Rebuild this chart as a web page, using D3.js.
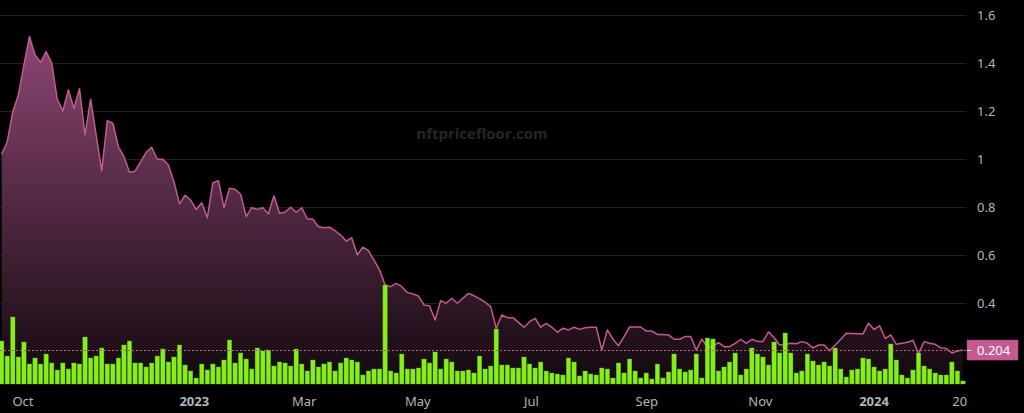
<!DOCTYPE html>
<html>
<head>
<meta charset="utf-8">
<script src="https://cdn.jsdelivr.net/npm/d3@7/dist/d3.min.js"></script>
<style>
  html, body { margin: 0; padding: 0; background: #000; }
  svg { display: block; }
</style>
</head>
<body>
<svg id="chart" width="1024" height="413"></svg>
<script>
// ---- DATA ----
const floorPrice = [
  1.021, 1.072, 1.197, 1.267, 1.392, 1.51, 1.433, 1.403, 1.447, 1.401,
  1.249, 1.2, 1.288, 1.211, 1.293, 1.1, 1.249, 1.1, 0.95, 1.16,
  1.149, 1.051, 1.01, 0.945, 0.949, 0.989, 1.028, 1.049, 0.999, 0.999,
  0.975, 0.905, 0.813, 0.849, 0.829, 0.79, 0.818, 0.755, 0.901, 0.91,
  0.797, 0.878, 0.874, 0.853, 0.76, 0.797, 0.79, 0.797, 0.771, 0.847,
  0.774, 0.779, 0.799, 0.778, 0.797, 0.751, 0.749, 0.718, 0.714, 0.716,
  0.701, 0.683, 0.658, 0.672, 0.6, 0.633, 0.618, 0.579, 0.538, 0.475,
  0.468, 0.482, 0.468, 0.444, 0.438, 0.429, 0.392, 0.388, 0.329, 0.41,
  0.399, 0.42, 0.399, 0.42, 0.44, 0.43, 0.418, 0.403, 0.385, 0.295,
  0.35, 0.339, 0.339, 0.319, 0.299, 0.322, 0.336, 0.299, 0.315, 0.299,
  0.278, 0.295, 0.288, 0.299, 0.29, 0.297, 0.299, 0.299, 0.204, 0.288,
  0.249, 0.222, 0.26, 0.3, 0.3, 0.3, 0.283, 0.283, 0.269, 0.269,
  0.267, 0.249, 0.249, 0.26, 0.26, 0.204, 0.25, 0.215, 0.22, 0.235,
  0.218, 0.218, 0.232, 0.249, 0.232, 0.249, 0.24, 0.24, 0.28, 0.255,
  0.225, 0.228, 0.232, 0.23, 0.239, 0.232, 0.213, 0.225, 0.225, 0.201,
  0.225, 0.249, 0.274, 0.273, 0.272, 0.271, 0.316, 0.29, 0.305, 0.252,
  0.267, 0.228, 0.232, 0.236, 0.245, 0.19, 0.239, 0.232, 0.228, 0.213,
  0.21, 0.192, 0.2, 0.204
];
const salesVolume = [
  43, 28, 67, 27, 42, 20, 26, 20, 30, 21,
  14, 21, 15, 21, 20, 47, 26, 28, 36, 20,
  20, 26, 39, 43, 21, 21, 17, 21, 28, 35,
  22, 27, 39, 19, 13, 6, 20, 14, 20, 17,
  24, 44, 21, 31, 25, 15, 36, 33, 34, 18,
  22, 21, 18, 35, 20, 13, 24, 17, 20, 22,
  13, 21, 26, 24, 22, 9, 13, 15, 15, 99,
  13, 11, 30, 15, 15, 16, 25, 21, 32, 15,
  25, 22, 13, 13, 14, 11, 28, 15, 18, 55,
  19, 19, 16, 16, 27, 20, 16, 22, 13, 11,
  10, 9, 26, 22, 8, 13, 10, 9, 16, 15,
  6, 21, 11, 25, 13, 6, 11, 5, 20, 6,
  12, 30, 15, 12, 14, 30, 6, 46, 45, 13,
  17, 22, 31, 9, 15, 36, 30, 27, 19, 42,
  31, 51, 31, 11, 13, 30, 23, 19, 22, 18,
  36, 15, 7, 14, 15, 26, 25, 17, 13, 15,
  40, 24, 9, 6, 14, 31, 18, 15, 11, 9,
  9, 22, 13, 3
];
const priceTicks = [0.4, 0.6, 0.8, 1, 1.2, 1.4, 1.6];
const timeTickDates = ["2022-10-01", "2023-01-01", "2023-03-01", "2023-05-01", "2023-07-01", "2023-09-01", "2023-11-01", "2024-01-01", "2024-02-16"];
const timeTickLabels = ["Oct", "2023", "Mar", "May", "Jul", "Sep", "Nov", "2024", "20"];
const lastPrice = 0.204;
const watermark = "nftpricefloor.com";

// ---- LAYOUT ----
const svg = d3.select("#chart");
const W = 1024, H = 413;
const plotRight = 966, plotBottom = 384;
const pink = "#c45a92";

const x = d3.scaleLinear().domain([0, floorPrice.length - 1]).range([1.7, 963]);
const xTime = d3.scaleTime()
  .domain([new Date(2022, 9, 1), new Date(2024, 0, 1)])
  .range([23, 874]);
const y = d3.scaleLinear().domain([0, 1.6]).range([399, 15]);
const yVol = d3.scaleLinear().domain([0, 100]).range([plotBottom, plotBottom - 100]);

svg.append("rect").attr("width", W).attr("height", H).attr("fill", "#000");

// gradient
const defs = svg.append("defs");
const grad = defs.append("linearGradient").attr("id", "areaGrad")
  .attr("gradientUnits", "userSpaceOnUse")
  .attr("x1", 0).attr("x2", 0).attr("y1", y(d3.max(floorPrice))).attr("y2", plotBottom);
grad.append("stop").attr("offset", 0).attr("stop-color", "#8c4672");
grad.append("stop").attr("offset", 1).attr("stop-color", "#12090f");

// grid
svg.append("g").selectAll("line").data(priceTicks).join("line")
  .attr("x1", 0).attr("x2", plotRight)
  .attr("y1", d => Math.round(y(d)) + 0.5).attr("y2", d => Math.round(y(d)) + 0.5)
  .attr("stroke", "#1f2024").attr("stroke-width", 1);

// watermark
svg.append("text").attr("x", 482).attr("y", 139).attr("text-anchor", "middle")
  .attr("font-family", "'Open Sans', 'Noto Sans', sans-serif").attr("font-weight", 700)
  .attr("font-size", 15).attr("fill", "#262626").text(watermark);

// area + line
const area = d3.area().x((d, i) => x(i)).y0(plotBottom).y1(d => y(d));
svg.append("path").datum(floorPrice).attr("d", area).attr("fill", "url(#areaGrad)");
const line = d3.line().x((d, i) => x(i)).y(d => y(d));
svg.append("path").datum(floorPrice).attr("d", line)
  .attr("fill", "none").attr("stroke", pink).attr("stroke-width", 1.5)
  .attr("stroke-linejoin", "round");

// volume bars
const bw = 4.4;
svg.append("g").selectAll("rect").data(salesVolume).join("rect")
  .attr("x", (d, i) => x(i) - bw / 2).attr("width", bw)
  .attr("y", d => yVol(d)).attr("height", d => plotBottom - yVol(d))
  .attr("fill", "#86ee1c").attr("stroke", "#5fb012").attr("stroke-width", 0.4);

// last price dashed line
svg.append("line").attr("x1", 0).attr("x2", plotRight)
  .attr("y1", Math.round(y(lastPrice)) + 0.5).attr("y2", Math.round(y(lastPrice)) + 0.5)
  .attr("stroke", pink).attr("stroke-width", 1).attr("stroke-dasharray", "2,2");

// y axis labels
const axisFont = "'Noto Sans', 'Open Sans', sans-serif";
svg.append("g").selectAll("text").data(priceTicks).join("text")
  .attr("x", 977).attr("y", d => y(d)).attr("dy", "0.35em")
  .attr("font-family", axisFont).attr("font-size", 13).attr("fill", "#b2b5be")
  .text(d => d3.format("~g")(d));

// price label
const py = y(lastPrice);
svg.append("rect").attr("x", 967).attr("y", py - 10).attr("width", 51).attr("height", 20)
  .attr("fill", pink).attr("stroke", "#b04d80").attr("stroke-width", 0.5);
svg.append("line").attr("x1", 967).attr("x2", 971).attr("y1", Math.round(py) + 0.5).attr("y2", Math.round(py) + 0.5)
  .attr("stroke", "#fff").attr("stroke-width", 1);
svg.append("text").attr("x", 977).attr("y", py).attr("dy", "0.35em")
  .attr("font-family", axisFont).attr("font-size", 13).attr("fill", "#fff")
  .text(d3.format(".3f")(lastPrice));

// x axis labels
const parse = d3.timeParse("%Y-%m-%d");
svg.append("g").selectAll("text").data(timeTickDates).join("text")
  .attr("x", d => xTime(parse(d))).attr("y", 406).attr("text-anchor", "middle")
  .attr("font-family", axisFont).attr("font-size", 13).attr("fill", "#b2b5be")
  .attr("font-weight", (d, i) => /^\d{4}$/.test(timeTickLabels[i]) ? 700 : 400)
  .text((d, i) => timeTickLabels[i]);
</script>
</body>
</html>
